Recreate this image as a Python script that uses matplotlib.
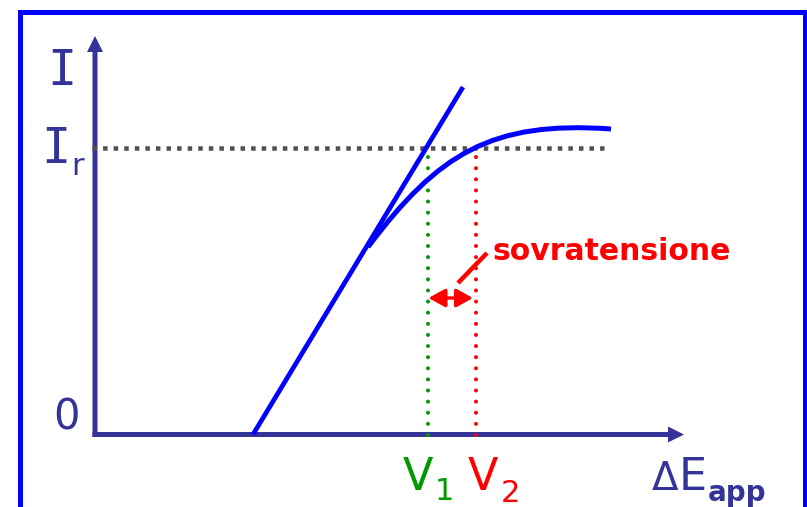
import matplotlib
matplotlib.use("Agg")
import matplotlib.pyplot as plt
from matplotlib.path import Path
from matplotlib.patches import PathPatch, FancyArrowPatch

# ---- data (chart units; origin at the axes' corner) ----
tangent_x = [158, 368]
tangent_y = [0, 347.5]
curve_x = [273, 343, 396, 516]          # cubic Bezier control points
curve_y = [187.5, 280.6, 314, 305.5]
I_r = 287
V1 = 332.5
V2 = 381
x_axis_end = 589
y_axis_end = 398.5
ir_line_end = 509
overvoltage_arrow_y = 136.5
pointer_x = [363, 392]
pointer_y = [151.5, 181.5]

NAVY = "#333399"
BLUE = "#0000FF"
GREEN = "#009900"
RED = "#FF0000"
GRAY = "#505050"

fig = plt.figure(figsize=(8.07, 5.07), dpi=100)
ax = fig.add_axes([0, 0, 1, 1])
ax.set_xlim(-95, 712)
ax.set_ylim(-72.5, 434.5)
ax.axis("off")

# outer frame
ax.plot([-75.5, -75.5, 710, 710], [-90, 423, 423, -90], color=BLUE, lw=3.6,
        solid_joinstyle="miter", clip_on=False)

# axes with arrows
ax.arrow(-2.5, 0, x_axis_end + 2.5, 0, width=5, head_width=16, head_length=16,
         length_includes_head=True, color=NAVY, lw=0)
ax.arrow(0, -2.5, 0, y_axis_end + 2.5, width=5, head_width=16, head_length=16,
         length_includes_head=True, color=NAVY, lw=0)

# I_r dotted horizontal line
ax.plot([-3, ir_line_end], [I_r, I_r], color=GRAY, lw=3.24,
        dashes=[1, 1.35], dash_capstyle="butt", zorder=2)

# vertical dotted lines
ax.plot([V1, V1], [0, I_r], color=GREEN, lw=2.9, dashes=[0.01, 2.75],
        dash_capstyle="round", zorder=3)
ax.plot([V2, V2], [0, I_r], color=RED, lw=2.9, dashes=[0.01, 2.75],
        dash_capstyle="round", zorder=3)

# tangent line
ax.plot(tangent_x, tangent_y, color=BLUE, lw=3.4, solid_capstyle="butt", zorder=4)

# curve
verts = list(zip(curve_x, curve_y))
path = Path(verts, [Path.MOVETO, Path.CURVE4, Path.CURVE4, Path.CURVE4])
ax.add_patch(PathPatch(path, fill=False, edgecolor=BLUE, lw=3.6,
                       capstyle="butt", zorder=4))

# overvoltage arrow and pointer
ax.add_patch(FancyArrowPatch((V1 + 1, overvoltage_arrow_y), (V2 - 3, overvoltage_arrow_y),
                             arrowstyle="<|-|>,head_length=1.0,head_width=0.55",
                             mutation_scale=10, color=RED, lw=2.4,
                             shrinkA=0, shrinkB=0, zorder=5))
ax.plot(pointer_x, pointer_y, color=RED, lw=3.2, solid_capstyle="butt", zorder=5)
ax.text(398, 174.5, "sovratensione", color=RED, fontsize=21.5, fontweight="bold",
        family="DejaVu Sans", ha="left", va="baseline")

# labels
ax.text(-33, 349.5, "I", color=NAVY, fontsize=35, family="DejaVu Sans Mono",
        ha="center", va="baseline")
ax.text(-39, 271.5, "I", color=NAVY, fontsize=35, family="DejaVu Sans Mono",
        ha="center", va="baseline")
ax.text(-24, 259.5, "r", color=NAVY, fontsize=22, family="DejaVu Sans",
        ha="left", va="baseline")
ax.text(-28.5, 4.5, "0", color=NAVY, fontsize=30, family="DejaVu Sans",
        ha="center", va="baseline")

ax.text(V1 - 10, -55.5, "V", color=GREEN, fontsize=32, family="DejaVu Sans",
        ha="center", va="baseline")
ax.text(V1 + 17, -65.5, "1", color=GREEN, fontsize=22, family="DejaVu Sans",
        ha="center", va="baseline")
ax.text(V2 + 7, -55.5, "V", color=RED, fontsize=32, family="DejaVu Sans",
        ha="center", va="baseline")
ax.text(V2 + 34.5, -67.5, "2", color=RED, fontsize=22, family="DejaVu Sans",
        ha="center", va="baseline")

ax.text(570, -55.5, "Δ", color=NAVY, fontsize=28, family="DejaVu Sans",
        ha="center", va="baseline")
ax.text(598, -55.5, "E", color=NAVY, fontsize=32, family="DejaVu Sans",
        ha="center", va="baseline")
ax.text(613, -66.5, "app", color=NAVY, fontsize=20, fontweight="bold",
        family="DejaVu Sans", ha="left", va="baseline")

fig.savefig("out.png", dpi=100)
